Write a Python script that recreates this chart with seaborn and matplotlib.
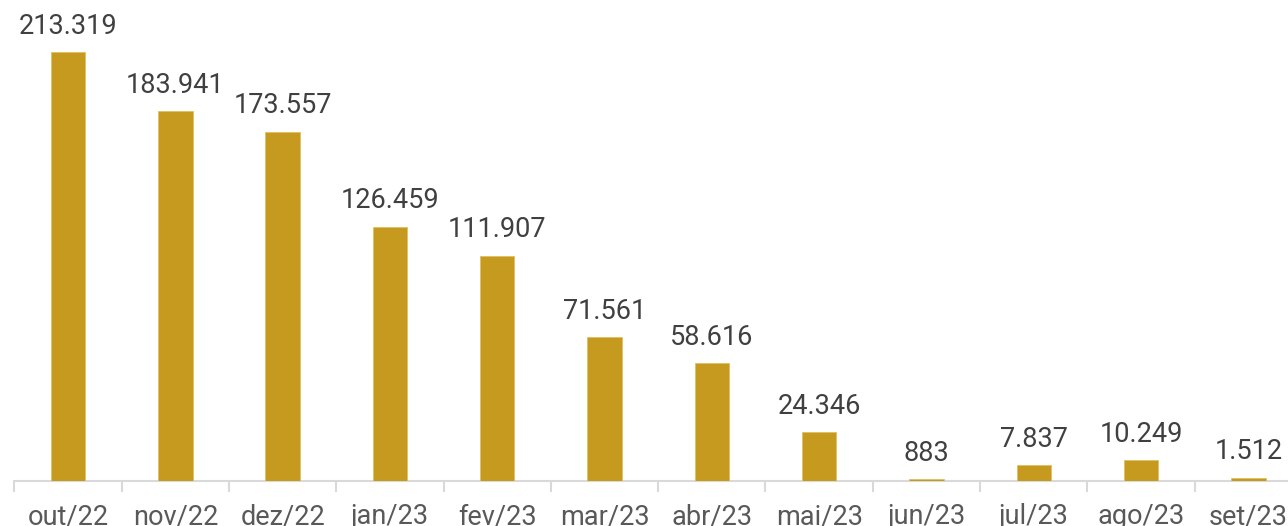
import matplotlib
matplotlib.use("Agg")
import matplotlib.pyplot as plt
import seaborn as sns
import pandas as pd
import numpy as np

months = ["out/22", "nov/22", "dez/22", "jan/23", "fev/23", "mar/23",
          "abr/23", "mai/23", "jun/23", "jul/23", "ago/23", "set/23"]
values = [213319, 183941, 173557, 126459, 111907, 71561,
          58616, 24346, 883, 7837, 10249, 1512]

sns.set_theme(style="white")
plt.rcParams['font.family'] = ['Roboto', 'DejaVu Sans']

df = pd.DataFrame({"mes": months, "valor": values})

fig = plt.figure(figsize=(12.88, 5.26), dpi=100)
ax = fig.add_axes([14.4 / 1288, 45 / 526, 1287.6 / 1288, 481 / 526])

sns.barplot(data=df, x="mes", y="valor", color="#C59A1F", width=0.32,
            saturation=1, ax=ax, edgecolor="#E0C060", linewidth=0.6, zorder=3)

ax.set_ylim(0, 213319 * 481 / 429)
ax.set_xlim(-0.5, len(months) - 0.5)

def fmt(v):
    return f"{v:,}".replace(",", ".")

ax.bar_label(ax.containers[0], labels=[fmt(v) for v in values],
             padding=9, fontsize=19.5, color="#404040")

for s in ["top", "right", "left"]:
    ax.spines[s].set_visible(False)
ax.spines["bottom"].set_color("#d9d9d9")
ax.spines["bottom"].set_linewidth(1.5)
ax.spines["bottom"].set_zorder(0)

ax.set_yticks([])
ax.set_xlabel("")
ax.set_ylabel("")
ax.set_xticks(np.arange(-0.5, len(months), 1.0), minor=True)
ax.tick_params(axis="x", which="minor", length=8, width=1.5, color="#d9d9d9",
               direction="out", bottom=True)
ax.tick_params(axis="x", which="major", length=0, pad=16, labelsize=19.5,
               labelcolor="#595959")

fig.savefig("out.png", dpi=100)
